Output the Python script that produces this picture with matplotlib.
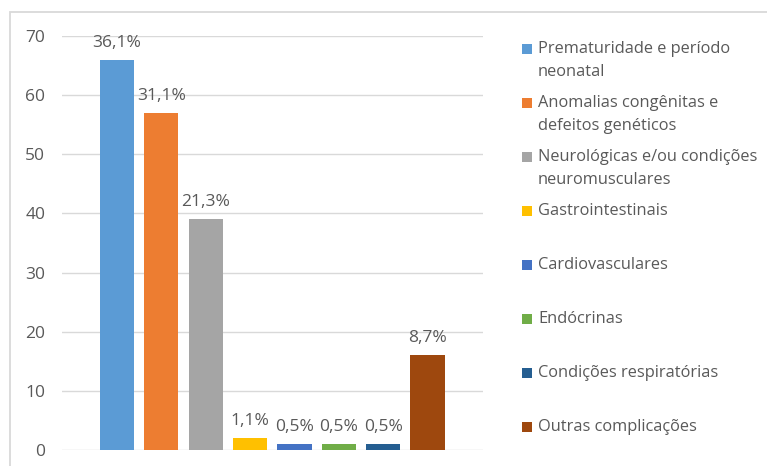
import matplotlib
matplotlib.use("Agg")
import matplotlib.pyplot as plt
from matplotlib.patches import Rectangle

# Causes of complications: counts per group
categories = [
    "Prematuridade e período\nneonatal",
    "Anomalias congênitas e\ndefeitos genéticos",
    "Neurológicas e/ou condições\nneuromusculares",
    "Gastrointestinais",
    "Cardiovasculares",
    "Endócrinas",
    "Condições respiratórias",
    "Outras complicações",
]
counts = [66, 57, 39, 2, 1, 1, 1, 16]
colors = ["#5B9BD5", "#ED7D31", "#A5A5A5", "#FFC000",
          "#4472C4", "#70AD47", "#255E91", "#9E480E"]
y_ticks = [0, 10, 20, 30, 40, 50, 60, 70]

plt.rcParams["font.family"] = ["Open Sans", "DejaVu Sans"]
TEXT = "#595959"
GRID = "#D9D9D9"

W, H = 767, 466
fig = plt.figure(figsize=(W / 100, H / 100), dpi=100)
fig.patch.set_facecolor("white")

# chart-area frame
fig.patches.append(Rectangle((10 / W, -0.1), 1.0, 1 - 12 / H + 0.1,
                             transform=fig.transFigure, fill=False,
                             edgecolor=GRID, linewidth=1.3))

ax = fig.add_axes([62 / W, 1 - 450 / H, (483 - 62) / W, (450 - 36) / H])
x = list(range(len(counts)))
bars = ax.bar(x, counts, width=0.77, color=colors, zorder=3)

total = sum(counts)
for b, v in zip(bars, counts):
    pct = f"{v / total * 100:.1f}%".replace(".", ",")
    ax.annotate(pct, (b.get_x() + b.get_width() / 2, v),
                xytext=(0, 6.5), textcoords="offset points",
                ha="center", va="bottom", fontsize=12.5, color=TEXT)

ax.set_xlim(-1.24, 8.25)
ax.set_ylim(0, 70)
ax.set_yticks(y_ticks)
ax.set_xticks([])
ax.tick_params(axis="y", length=0, pad=12, labelsize=12.5, labelcolor=TEXT)
ax.grid(axis="y", color=GRID, linewidth=1.0, zorder=0)
for s in ax.spines.values():
    s.set_visible(False)

# legend drawn entry by entry
row_top = 49
row_step = 54
line_step = 23
for i, (lab, c) in enumerate(zip(categories, colors)):
    yc = row_top + i * row_step
    fig.patches.append(Rectangle((522 / W, 1 - (yc + 5) / H), 10 / W, 10 / H,
                                 transform=fig.transFigure, facecolor=c,
                                 edgecolor="none"))
    for j, line in enumerate(lab.split("\n")):
        fig.text(538 / W, 1 - (yc + j * line_step) / H, line,
                 ha="left", va="center", fontsize=11.8, color=TEXT)

fig.savefig("out.png", dpi=100)
